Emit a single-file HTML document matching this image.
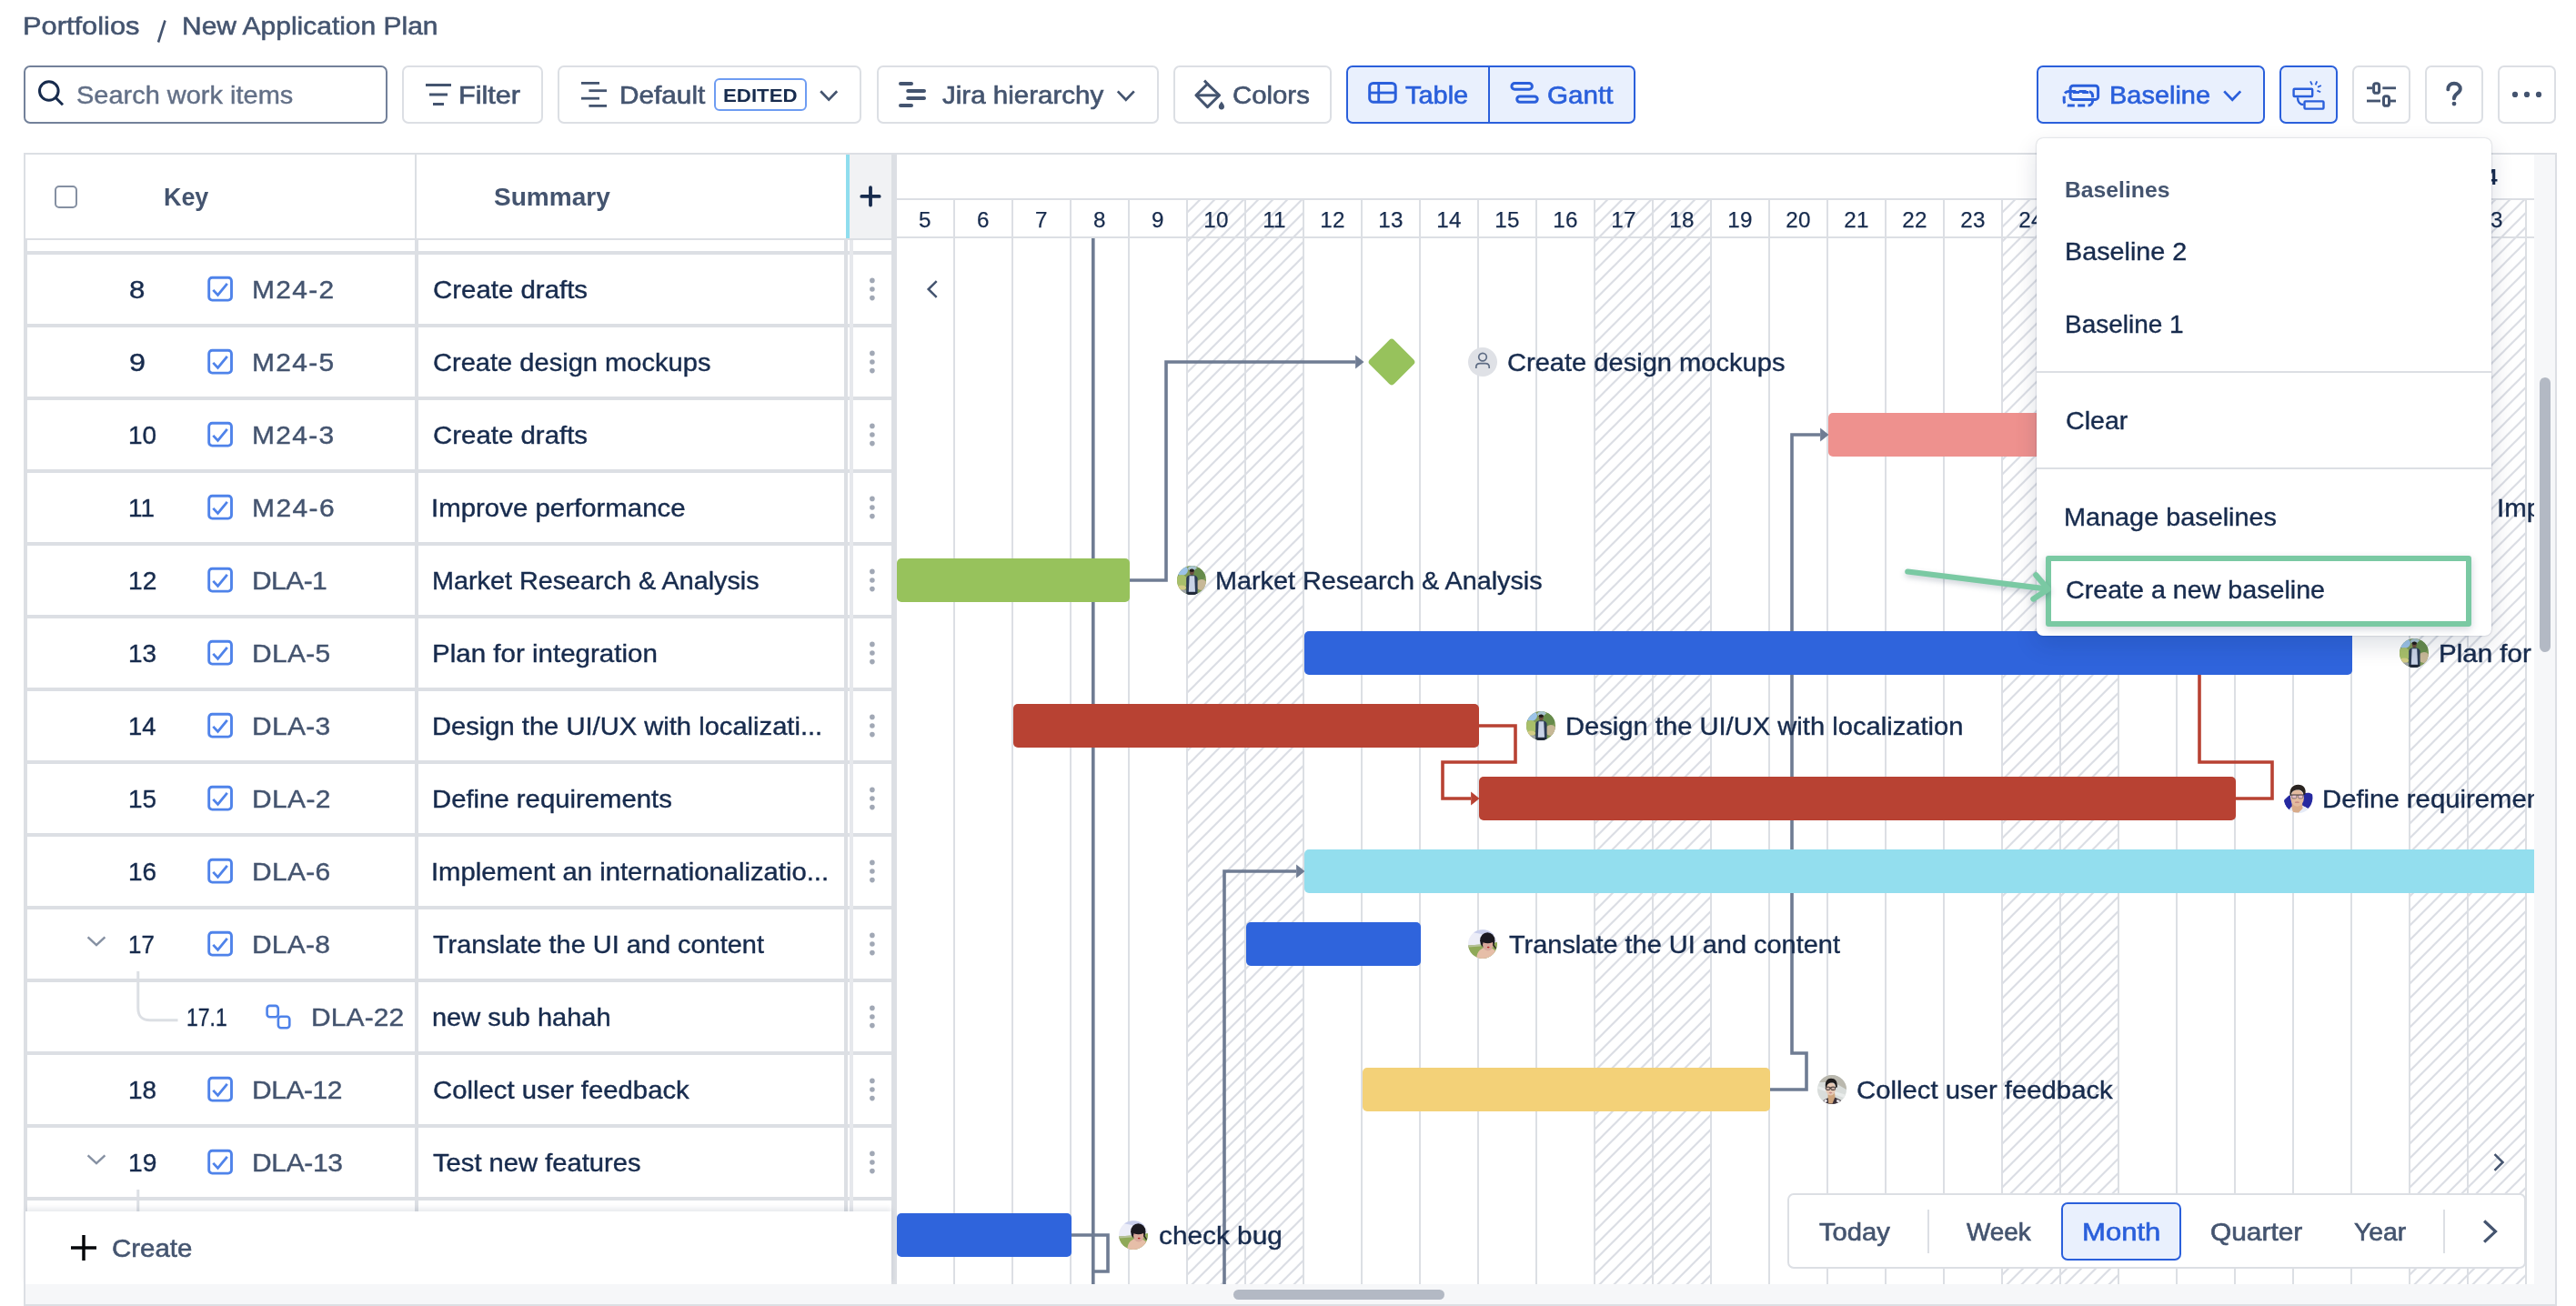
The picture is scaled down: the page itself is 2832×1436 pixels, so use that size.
<!DOCTYPE html>
<html><head><meta charset="utf-8"><title>New Application Plan</title>
<style>
html,body{margin:0;padding:0;background:#fff;}
body{width:2832px;height:1436px;position:relative;overflow:hidden;font-family:"Liberation Sans",sans-serif;}
div,svg{position:absolute;box-sizing:border-box;}
.t{white-space:nowrap;}
.btn{border:2px solid #DCDFE4;border-radius:7px;background:#fff;}
.btnsel{border:2.5px solid #2A5FDB;border-radius:7px;background:#E9F0FD;}
#root{left:0;top:0;width:2832px;height:1436px;will-change:transform;}
</style></head><body><div id="root">

<div style="left:0;top:0;width:2786px;height:1412px;overflow:hidden;">
<svg style="left:0px;top:0px;" width="2786" height="1412" viewBox="0 0 2786 1412" fill="none"><defs><pattern id="hz" width="16" height="16" patternUnits="userSpaceOnUse" patternTransform="translate(2.8 0)"><path d="M-2 18L18 -2M-2 2L2 -2M14 18L18 14" stroke="#D9DCE3" stroke-width="2.0"/></pattern></defs><rect x="1305" y="220" width="64" height="1192" fill="url(#hz)"/><rect x="1369" y="220" width="64" height="1192" fill="url(#hz)"/><rect x="1753" y="220" width="64" height="1192" fill="url(#hz)"/><rect x="1817" y="220" width="64" height="1192" fill="url(#hz)"/><rect x="2201" y="220" width="64" height="1192" fill="url(#hz)"/><rect x="2265" y="220" width="64" height="1192" fill="url(#hz)"/><rect x="2649" y="220" width="64" height="1192" fill="url(#hz)"/><rect x="2713" y="220" width="64" height="1192" fill="url(#hz)"/><rect x="1048" y="219" width="2" height="1193" fill="#DCDFE4"/><rect x="1112" y="219" width="2" height="1193" fill="#DCDFE4"/><rect x="1176" y="219" width="2" height="1193" fill="#DCDFE4"/><rect x="1240" y="219" width="2" height="1193" fill="#DCDFE4"/><rect x="1304" y="219" width="2" height="1193" fill="#DCDFE4"/><rect x="1368" y="219" width="2" height="1193" fill="#DCDFE4"/><rect x="1432" y="219" width="2" height="1193" fill="#DCDFE4"/><rect x="1496" y="219" width="2" height="1193" fill="#DCDFE4"/><rect x="1560" y="219" width="2" height="1193" fill="#DCDFE4"/><rect x="1624" y="219" width="2" height="1193" fill="#DCDFE4"/><rect x="1688" y="219" width="2" height="1193" fill="#DCDFE4"/><rect x="1752" y="219" width="2" height="1193" fill="#DCDFE4"/><rect x="1816" y="219" width="2" height="1193" fill="#DCDFE4"/><rect x="1880" y="219" width="2" height="1193" fill="#DCDFE4"/><rect x="1944" y="219" width="2" height="1193" fill="#DCDFE4"/><rect x="2008" y="219" width="2" height="1193" fill="#DCDFE4"/><rect x="2072" y="219" width="2" height="1193" fill="#DCDFE4"/><rect x="2136" y="219" width="2" height="1193" fill="#DCDFE4"/><rect x="2200" y="219" width="2" height="1193" fill="#DCDFE4"/><rect x="2264" y="219" width="2" height="1193" fill="#DCDFE4"/><rect x="2328" y="219" width="2" height="1193" fill="#DCDFE4"/><rect x="2392" y="219" width="2" height="1193" fill="#DCDFE4"/><rect x="2456" y="219" width="2" height="1193" fill="#DCDFE4"/><rect x="2520" y="219" width="2" height="1193" fill="#DCDFE4"/><rect x="2584" y="219" width="2" height="1193" fill="#DCDFE4"/><rect x="2648" y="219" width="2" height="1193" fill="#DCDFE4"/><rect x="2712" y="219" width="2" height="1193" fill="#DCDFE4"/><rect x="2776" y="219" width="2" height="1193" fill="#DCDFE4"/><rect x="986" y="218" width="1800" height="2" fill="#DCDFE4"/><rect x="986" y="260" width="1800" height="2" fill="#DCDFE4"/><rect x="1200" y="262" width="3.6" height="1150" fill="#6F7C93"/></svg>
<div class="t" style="left:985px;top:222px;width:64px;height:40px;line-height:40px;text-align:center;font-size:24.2px;letter-spacing:0.3px;-webkit-text-stroke:0.25px #172B4D;color:#172B4D;">5</div>
<div class="t" style="left:1049px;top:222px;width:64px;height:40px;line-height:40px;text-align:center;font-size:24.2px;letter-spacing:0.3px;-webkit-text-stroke:0.25px #172B4D;color:#172B4D;">6</div>
<div class="t" style="left:1113px;top:222px;width:64px;height:40px;line-height:40px;text-align:center;font-size:24.2px;letter-spacing:0.3px;-webkit-text-stroke:0.25px #172B4D;color:#172B4D;">7</div>
<div class="t" style="left:1177px;top:222px;width:64px;height:40px;line-height:40px;text-align:center;font-size:24.2px;letter-spacing:0.3px;-webkit-text-stroke:0.25px #172B4D;color:#172B4D;">8</div>
<div class="t" style="left:1241px;top:222px;width:64px;height:40px;line-height:40px;text-align:center;font-size:24.2px;letter-spacing:0.3px;-webkit-text-stroke:0.25px #172B4D;color:#172B4D;">9</div>
<div class="t" style="left:1305px;top:222px;width:64px;height:40px;line-height:40px;text-align:center;font-size:24.2px;letter-spacing:0.3px;-webkit-text-stroke:0.25px #172B4D;color:#172B4D;">10</div>
<div class="t" style="left:1369px;top:222px;width:64px;height:40px;line-height:40px;text-align:center;font-size:24.2px;letter-spacing:0.3px;-webkit-text-stroke:0.25px #172B4D;color:#172B4D;">11</div>
<div class="t" style="left:1433px;top:222px;width:64px;height:40px;line-height:40px;text-align:center;font-size:24.2px;letter-spacing:0.3px;-webkit-text-stroke:0.25px #172B4D;color:#172B4D;">12</div>
<div class="t" style="left:1497px;top:222px;width:64px;height:40px;line-height:40px;text-align:center;font-size:24.2px;letter-spacing:0.3px;-webkit-text-stroke:0.25px #172B4D;color:#172B4D;">13</div>
<div class="t" style="left:1561px;top:222px;width:64px;height:40px;line-height:40px;text-align:center;font-size:24.2px;letter-spacing:0.3px;-webkit-text-stroke:0.25px #172B4D;color:#172B4D;">14</div>
<div class="t" style="left:1625px;top:222px;width:64px;height:40px;line-height:40px;text-align:center;font-size:24.2px;letter-spacing:0.3px;-webkit-text-stroke:0.25px #172B4D;color:#172B4D;">15</div>
<div class="t" style="left:1689px;top:222px;width:64px;height:40px;line-height:40px;text-align:center;font-size:24.2px;letter-spacing:0.3px;-webkit-text-stroke:0.25px #172B4D;color:#172B4D;">16</div>
<div class="t" style="left:1753px;top:222px;width:64px;height:40px;line-height:40px;text-align:center;font-size:24.2px;letter-spacing:0.3px;-webkit-text-stroke:0.25px #172B4D;color:#172B4D;">17</div>
<div class="t" style="left:1817px;top:222px;width:64px;height:40px;line-height:40px;text-align:center;font-size:24.2px;letter-spacing:0.3px;-webkit-text-stroke:0.25px #172B4D;color:#172B4D;">18</div>
<div class="t" style="left:1881px;top:222px;width:64px;height:40px;line-height:40px;text-align:center;font-size:24.2px;letter-spacing:0.3px;-webkit-text-stroke:0.25px #172B4D;color:#172B4D;">19</div>
<div class="t" style="left:1945px;top:222px;width:64px;height:40px;line-height:40px;text-align:center;font-size:24.2px;letter-spacing:0.3px;-webkit-text-stroke:0.25px #172B4D;color:#172B4D;">20</div>
<div class="t" style="left:2009px;top:222px;width:64px;height:40px;line-height:40px;text-align:center;font-size:24.2px;letter-spacing:0.3px;-webkit-text-stroke:0.25px #172B4D;color:#172B4D;">21</div>
<div class="t" style="left:2073px;top:222px;width:64px;height:40px;line-height:40px;text-align:center;font-size:24.2px;letter-spacing:0.3px;-webkit-text-stroke:0.25px #172B4D;color:#172B4D;">22</div>
<div class="t" style="left:2137px;top:222px;width:64px;height:40px;line-height:40px;text-align:center;font-size:24.2px;letter-spacing:0.3px;-webkit-text-stroke:0.25px #172B4D;color:#172B4D;">23</div>
<div class="t" style="left:2201px;top:222px;width:64px;height:40px;line-height:40px;text-align:center;font-size:24.2px;letter-spacing:0.3px;-webkit-text-stroke:0.25px #172B4D;color:#172B4D;">24</div>
<div class="t" style="left:2265px;top:222px;width:64px;height:40px;line-height:40px;text-align:center;font-size:24.2px;letter-spacing:0.3px;-webkit-text-stroke:0.25px #172B4D;color:#172B4D;">25</div>
<div class="t" style="left:2329px;top:222px;width:64px;height:40px;line-height:40px;text-align:center;font-size:24.2px;letter-spacing:0.3px;-webkit-text-stroke:0.25px #172B4D;color:#172B4D;">26</div>
<div class="t" style="left:2393px;top:222px;width:64px;height:40px;line-height:40px;text-align:center;font-size:24.2px;letter-spacing:0.3px;-webkit-text-stroke:0.25px #172B4D;color:#172B4D;">27</div>
<div class="t" style="left:2457px;top:222px;width:64px;height:40px;line-height:40px;text-align:center;font-size:24.2px;letter-spacing:0.3px;-webkit-text-stroke:0.25px #172B4D;color:#172B4D;">28</div>
<div class="t" style="left:2521px;top:222px;width:64px;height:40px;line-height:40px;text-align:center;font-size:24.2px;letter-spacing:0.3px;-webkit-text-stroke:0.25px #172B4D;color:#172B4D;">29</div>
<div class="t" style="left:2585px;top:222px;width:64px;height:40px;line-height:40px;text-align:center;font-size:24.2px;letter-spacing:0.3px;-webkit-text-stroke:0.25px #172B4D;color:#172B4D;">1</div>
<div class="t" style="left:2649px;top:222px;width:64px;height:40px;line-height:40px;text-align:center;font-size:24.2px;letter-spacing:0.3px;-webkit-text-stroke:0.25px #172B4D;color:#172B4D;">2</div>
<div class="t" style="left:2713px;top:222px;width:64px;height:40px;line-height:40px;text-align:center;font-size:24.2px;letter-spacing:0.3px;-webkit-text-stroke:0.25px #172B4D;color:#172B4D;">3</div>
<div class="t" style="left:2777px;top:222px;width:64px;height:40px;line-height:40px;text-align:center;font-size:24.2px;letter-spacing:0.3px;-webkit-text-stroke:0.25px #172B4D;color:#172B4D;">4</div>
<div class="t" style="left:2680px;top:178.0px;height:33px;line-height:33px;font-size:24px;color:#172B4D;font-weight:700;white-space:nowrap;width:65.5px;text-align:right;overflow:visible;direction:rtl;">Mar 2024</div>
<svg style="left:0px;top:0px;" width="2786" height="1414" viewBox="0 0 2786 1414" fill="none"><path d="M1240 638H1282V398H1490" stroke="#6F7C93" stroke-width="3.6" fill="none" stroke-linejoin="miter"/><path d="M1490.1 390.6L1499.5 398L1490.1 405.4Z" fill="#6F7C93"/><path d="M1944 1198H1986V1158H1970V478H2001" stroke="#6F7C93" stroke-width="3.6" fill="none" stroke-linejoin="miter"/><path d="M2001.1 470.6L2010.5 478L2001.1 485.4Z" fill="#6F7C93"/><path d="M1346 1414V958H1425" stroke="#6F7C93" stroke-width="3.6" fill="none" stroke-linejoin="miter"/><path d="M1425.1 950.6L1434.5 958L1425.1 965.4Z" fill="#6F7C93"/><path d="M1176 1358H1218V1398H1202" stroke="#6F7C93" stroke-width="3.6" fill="none" stroke-linejoin="miter"/><path d="M1624 798H1666V838H1586V878H1617" stroke="#B84233" stroke-width="3.6" fill="none" stroke-linejoin="miter"/><path d="M1617.1 870.6L1626.5 878L1617.1 885.4Z" fill="#B84233"/><path d="M2456 878H2498V838H2418V740" stroke="#B84233" stroke-width="3.6" fill="none" stroke-linejoin="miter"/></svg>
<div style="left:2010px;top:454px;width:320px;height:48px;background:#EE918E;border-radius:5px;"></div>
<div style="left:986px;top:614px;width:256px;height:48px;background:#97C25C;border-radius:5px;"></div>
<div style="left:1434px;top:694px;width:1152px;height:48px;background:#2F64DC;border-radius:5px;"></div>
<div style="left:1114px;top:774px;width:512px;height:48px;background:#B84233;border-radius:5px;"></div>
<div style="left:1626px;top:854px;width:832px;height:48px;background:#B84233;border-radius:5px;"></div>
<div style="left:1434px;top:934px;width:1360px;height:48px;background:#93DEEE;border-radius:5px;"></div>
<div style="left:1370px;top:1014px;width:192px;height:48px;background:#2F64DC;border-radius:5px;"></div>
<div style="left:1498px;top:1174px;width:448px;height:48px;background:#F3D178;border-radius:5px;"></div>
<div style="left:986px;top:1334px;width:192px;height:48px;background:#2F64DC;border-radius:5px;"></div>
<div style="left:1511px;top:379px;width:38px;height:38px;background:#97C25C;border-radius:4px;transform:rotate(45deg);"></div>
<svg style="left:1614px;top:382px;" width="32" height="32" viewBox="0 0 32 32" fill="none"><defs><clipPath id="av1"><circle cx="16" cy="16" r="16"/></clipPath></defs><g clip-path="url(#av1)"><rect width="32" height="32" fill="#DFE1E6"/><circle cx="16" cy="10.6" r="4.3" stroke="#5E6C84" stroke-width="1.7"/><path d="M8.8 23V21.6C8.8 19.2 10.6 17.6 13 17.6H19C21.4 17.6 23.2 19.2 23.2 21.6V23" stroke="#5E6C84" stroke-width="1.7"/></g></svg>
<div class="t" style="left:1657.31px;top:378.5px;height:39px;line-height:39px;font-size:28px;color:#172B4D;font-weight:400;white-space:nowrap;-webkit-text-stroke:0.4px #172B4D;transform:scaleX(1.0383);transform-origin:0 50%;">Create design mockups</div>
<div class="t" style="left:2744.58px;top:538.5px;height:39px;line-height:39px;font-size:28px;color:#172B4D;font-weight:400;white-space:nowrap;-webkit-text-stroke:0.4px #172B4D;transform:scaleX(1.051);transform-origin:0 50%;">Improve performance</div>
<svg style="left:1294px;top:622px;" width="32" height="32" viewBox="0 0 32 32" fill="none"><defs><clipPath id="av2"><circle cx="16" cy="16" r="16"/></clipPath></defs><g clip-path="url(#av2)"><rect width="32" height="32" fill="#7F9A58"/><ellipse cx="5" cy="5" rx="7" ry="6" fill="#9CC3E8"/><ellipse cx="17" cy="3" rx="5" ry="3" fill="#A9C4CF"/><ellipse cx="5" cy="17" rx="6.5" ry="7" fill="#A8BF6A"/><ellipse cx="25" cy="9" rx="7" ry="7" fill="#668B4B"/><ellipse cx="27" cy="21" rx="6" ry="6" fill="#C7B897"/><path d="M0 22L10 27L10 32L0 32Z" fill="#9FA3A6"/><ellipse cx="5" cy="24" rx="5" ry="2.6" fill="#D2CC85"/><path d="M10.2 32V14.5C10.2 11.8 12.5 10.3 16.2 10.3C20 10.3 22.6 11.8 22.6 14.5V32Z" fill="#2B3B55"/><path d="M13.6 11.2H19.2L20 28.8H12.8Z" fill="#C8D2E6"/><rect x="11" y="29" width="11" height="3" fill="#1F2838"/><ellipse cx="16.3" cy="6.9" rx="2.5" ry="3.1" fill="#6B4E40"/><ellipse cx="16.3" cy="5.2" rx="2.7" ry="1.7" fill="#1F1A1A"/></g></svg>
<div class="t" style="left:1336.39px;top:618.5px;height:39px;line-height:39px;font-size:28px;color:#172B4D;font-weight:400;white-space:nowrap;-webkit-text-stroke:0.4px #172B4D;transform:scaleX(1.0271);transform-origin:0 50%;">Market Research &amp; Analysis</div>
<svg style="left:2638px;top:702px;" width="32" height="32" viewBox="0 0 32 32" fill="none"><defs><clipPath id="av3"><circle cx="16" cy="16" r="16"/></clipPath></defs><g clip-path="url(#av3)"><rect width="32" height="32" fill="#7F9A58"/><ellipse cx="5" cy="5" rx="7" ry="6" fill="#9CC3E8"/><ellipse cx="17" cy="3" rx="5" ry="3" fill="#A9C4CF"/><ellipse cx="5" cy="17" rx="6.5" ry="7" fill="#A8BF6A"/><ellipse cx="25" cy="9" rx="7" ry="7" fill="#668B4B"/><ellipse cx="27" cy="21" rx="6" ry="6" fill="#C7B897"/><path d="M0 22L10 27L10 32L0 32Z" fill="#9FA3A6"/><ellipse cx="5" cy="24" rx="5" ry="2.6" fill="#D2CC85"/><path d="M10.2 32V14.5C10.2 11.8 12.5 10.3 16.2 10.3C20 10.3 22.6 11.8 22.6 14.5V32Z" fill="#2B3B55"/><path d="M13.6 11.2H19.2L20 28.8H12.8Z" fill="#C8D2E6"/><rect x="11" y="29" width="11" height="3" fill="#1F2838"/><ellipse cx="16.3" cy="6.9" rx="2.5" ry="3.1" fill="#6B4E40"/><ellipse cx="16.3" cy="5.2" rx="2.7" ry="1.7" fill="#1F1A1A"/></g></svg>
<div class="t" style="left:2680.84px;top:698.5px;height:39px;line-height:39px;font-size:28px;color:#172B4D;font-weight:400;white-space:nowrap;-webkit-text-stroke:0.4px #172B4D;transform:scaleX(1.0546);transform-origin:0 50%;">Plan for integration</div>
<svg style="left:1678px;top:782px;" width="32" height="32" viewBox="0 0 32 32" fill="none"><defs><clipPath id="av4"><circle cx="16" cy="16" r="16"/></clipPath></defs><g clip-path="url(#av4)"><rect width="32" height="32" fill="#7F9A58"/><ellipse cx="5" cy="5" rx="7" ry="6" fill="#9CC3E8"/><ellipse cx="17" cy="3" rx="5" ry="3" fill="#A9C4CF"/><ellipse cx="5" cy="17" rx="6.5" ry="7" fill="#A8BF6A"/><ellipse cx="25" cy="9" rx="7" ry="7" fill="#668B4B"/><ellipse cx="27" cy="21" rx="6" ry="6" fill="#C7B897"/><path d="M0 22L10 27L10 32L0 32Z" fill="#9FA3A6"/><ellipse cx="5" cy="24" rx="5" ry="2.6" fill="#D2CC85"/><path d="M10.2 32V14.5C10.2 11.8 12.5 10.3 16.2 10.3C20 10.3 22.6 11.8 22.6 14.5V32Z" fill="#2B3B55"/><path d="M13.6 11.2H19.2L20 28.8H12.8Z" fill="#C8D2E6"/><rect x="11" y="29" width="11" height="3" fill="#1F2838"/><ellipse cx="16.3" cy="6.9" rx="2.5" ry="3.1" fill="#6B4E40"/><ellipse cx="16.3" cy="5.2" rx="2.7" ry="1.7" fill="#1F1A1A"/></g></svg>
<div class="t" style="left:1720.87px;top:778.5px;height:39px;line-height:39px;font-size:28px;color:#172B4D;font-weight:400;white-space:nowrap;-webkit-text-stroke:0.4px #172B4D;transform:scaleX(1.041);transform-origin:0 50%;">Design the UI/UX with localization</div>
<svg style="left:2510.5px;top:862px;" width="32" height="32" viewBox="0 0 32 32" fill="none"><defs><clipPath id="av5"><circle cx="16" cy="16" r="16"/></clipPath></defs><g clip-path="url(#av5)"><rect width="32" height="32" fill="#fff"/><path d="M-1 20L6 13.5L9 28L4.5 27.5Z" fill="#2629A0" stroke="#2629A0" stroke-width="2" stroke-linejoin="round"/><path d="M21 11C25 9 30 9.5 31.5 12C32 18 30 24 26.5 27L19 23Z" fill="#2629A0"/><path d="M3 32L8 25H23L28 30L26 32Z" fill="#E6EBF7"/><path d="M8.4 26L9 20H20L20.5 27L16 31.5H10Z" fill="#D8AB8A"/><ellipse cx="14.6" cy="15.5" rx="7.3" ry="9.3" fill="#E3BB9F"/><path d="M6.6 13C5.5 5 10 0.8 15.5 0.8C21.5 0.8 25 5.5 23.3 11.5L21.5 12C21 8 18 6 14 6.5C10 7 8 9 7.8 13Z" fill="#2A2421"/><path d="M7.6 12.2H21.6" stroke="#4A4044" stroke-width="1.3"/><rect x="8.6" y="12.3" width="5.2" height="3.6" rx="1.4" fill="#E6BFC6" stroke="#6A5E66" stroke-width="0.8"/><rect x="15.6" y="12.3" width="5.2" height="3.6" rx="1.4" fill="#E6BFC6" stroke="#6A5E66" stroke-width="0.8"/><ellipse cx="14.4" cy="20.2" rx="2.6" ry="0.9" fill="#C98C82"/></g></svg>
<div class="t" style="left:2552.65px;top:858.5px;height:39px;line-height:39px;font-size:28px;color:#172B4D;font-weight:400;white-space:nowrap;-webkit-text-stroke:0.4px #172B4D;transform:scaleX(1.0465);transform-origin:0 50%;">Define requirements</div>
<svg style="left:1614px;top:1022px;" width="32" height="32" viewBox="0 0 32 32" fill="none"><defs><clipPath id="av6"><circle cx="16" cy="16" r="16"/></clipPath></defs><g clip-path="url(#av6)"><rect width="32" height="32" fill="#ECEDF8"/><path d="M4 3C12 -1 24 -1 30 6L20 6Z" fill="#C9CFEC"/><path d="M0 17.5L14 16.5L32 14V32H0Z" fill="#8FA958"/><path d="M0 17.5L14 16.5L14 18.5L0 19.5Z" fill="#B7C29A"/><ellipse cx="21" cy="31" rx="11.5" ry="11.5" fill="#E6BEA8"/><ellipse cx="21.3" cy="12.2" rx="8.2" ry="9" fill="#1B1920"/><ellipse cx="21.8" cy="16.8" rx="5.8" ry="6.6" fill="#D9A99B"/><path d="M15.5 13C17 8.5 25 8 28 13.5C24 12.5 22 10.5 21.5 9.5C20 12.5 17.5 13.5 15.5 13Z" fill="#1B1920"/><ellipse cx="21.6" cy="12.6" rx="6.2" ry="2.6" fill="#1B1920"/><ellipse cx="22.2" cy="19.6" rx="1.4" ry="0.8" fill="#B22A2A"/><path d="M27.5 15L31 20.5L30 21.5L27 17Z" fill="#2A2320"/></g></svg>
<div class="t" style="left:1659.29px;top:1018.5px;height:39px;line-height:39px;font-size:28px;color:#172B4D;font-weight:400;white-space:nowrap;-webkit-text-stroke:0.4px #172B4D;transform:scaleX(1.0331);transform-origin:0 50%;">Translate the UI and content</div>
<svg style="left:1998px;top:1182px;" width="32" height="32" viewBox="0 0 32 32" fill="none"><defs><clipPath id="av7"><circle cx="16" cy="16" r="16"/></clipPath></defs><g clip-path="url(#av7)"><rect width="32" height="32" fill="#D9DDDB"/><path d="M0 0H32V16L18 8L2 8Z" fill="#BAB8AE"/><path d="M0 12L32 22V26L0 15Z" fill="#E8EBEA"/><path d="M5 32L7 27.5L13 24.5H19L25.5 27.5L27 32Z" fill="#3A3038"/><path d="M7 28L10 26.5L11 29L8.5 30.5ZM21.5 26.8L25 28.2L24 30.3L21 29.4Z" fill="#F0EEF2"/><path d="M12.3 31.5L11.5 23L12 19H19L19.5 24L16.5 31.5Z" fill="#CFA57E"/><ellipse cx="14.6" cy="15.4" rx="5.4" ry="7.2" fill="#E6C8B4"/><path d="M9 13.5C8 7 11 3.8 15 3.8C19.5 3.8 22.3 6.5 21.8 13.5L20.2 14C20 10 18.5 8.5 16 8.6C12.5 8.7 10.6 10 10 14Z" fill="#1D1B1C"/><path d="M8.8 14.2H20" stroke="#3B3230" stroke-width="1.2"/><rect x="9.4" y="13.2" width="4.4" height="3.2" rx="1" stroke="#3B3230" stroke-width="1" fill="#C9B0A4"/><rect x="15" y="13.2" width="4.6" height="3.2" rx="1" stroke="#3B3230" stroke-width="1" fill="#C9B0A4"/><ellipse cx="14.4" cy="19.6" rx="1.8" ry="0.8" fill="#C98A86"/></g></svg>
<div class="t" style="left:2041.4px;top:1178.5px;height:39px;line-height:39px;font-size:28px;color:#172B4D;font-weight:400;white-space:nowrap;-webkit-text-stroke:0.4px #172B4D;transform:scaleX(1.0463);transform-origin:0 50%;">Collect user feedback</div>
<svg style="left:1230px;top:1342px;" width="32" height="32" viewBox="0 0 32 32" fill="none"><defs><clipPath id="av8"><circle cx="16" cy="16" r="16"/></clipPath></defs><g clip-path="url(#av8)"><rect width="32" height="32" fill="#ECEDF8"/><path d="M4 3C12 -1 24 -1 30 6L20 6Z" fill="#C9CFEC"/><path d="M0 17.5L14 16.5L32 14V32H0Z" fill="#8FA958"/><path d="M0 17.5L14 16.5L14 18.5L0 19.5Z" fill="#B7C29A"/><ellipse cx="21" cy="31" rx="11.5" ry="11.5" fill="#E6BEA8"/><ellipse cx="21.3" cy="12.2" rx="8.2" ry="9" fill="#1B1920"/><ellipse cx="21.8" cy="16.8" rx="5.8" ry="6.6" fill="#D9A99B"/><path d="M15.5 13C17 8.5 25 8 28 13.5C24 12.5 22 10.5 21.5 9.5C20 12.5 17.5 13.5 15.5 13Z" fill="#1B1920"/><ellipse cx="21.6" cy="12.6" rx="6.2" ry="2.6" fill="#1B1920"/><ellipse cx="22.2" cy="19.6" rx="1.4" ry="0.8" fill="#B22A2A"/><path d="M27.5 15L31 20.5L30 21.5L27 17Z" fill="#2A2320"/></g></svg>
<div class="t" style="left:1273.85px;top:1338.5px;height:39px;line-height:39px;font-size:28px;color:#172B4D;font-weight:400;white-space:nowrap;-webkit-text-stroke:0.4px #172B4D;transform:scaleX(1.0638);transform-origin:0 50%;">check bug</div>
<svg style="left:1010px;top:300px;" width="36" height="36" viewBox="0 0 36 36" fill="none"><path d="M19.7 9.1L10.7 18L19.7 26.9" stroke="#44546F" stroke-width="2.5" fill="none"/></svg>
<svg style="left:2730px;top:1260px;" width="36" height="36" viewBox="0 0 36 36" fill="none"><path d="M12.5 9.1L21.5 18L12.5 26.9" stroke="#44546F" stroke-width="2.5" fill="none"/></svg>
<div style="left:1965px;top:1312px;width:812px;height:83px;background:#fff;border:2px solid #DCDFE4;border-radius:7px;"></div>
<div class="btnsel" style="left:2266px;top:1322px;width:132px;height:64px;"></div>
<div class="t" style="left:2000.1px;top:1334.5px;height:39px;line-height:39px;font-size:28px;color:#44546F;font-weight:400;white-space:nowrap;-webkit-text-stroke:0.62px #44546F;transform:scaleX(1.0418);transform-origin:0 50%;">Today</div>
<div style="left:2119px;top:1330px;width:2px;height:48px;background:#DCDFE4;"></div>
<div class="t" style="left:2161.81px;top:1334.5px;height:39px;line-height:39px;font-size:28px;color:#44546F;font-weight:400;white-space:nowrap;-webkit-text-stroke:0.62px #44546F;transform:scaleX(0.9962);transform-origin:0 50%;">Week</div>
<div class="t" style="left:2288.85px;top:1334.5px;height:39px;line-height:39px;font-size:28px;color:#2A5FDB;font-weight:400;white-space:nowrap;-webkit-text-stroke:0.62px #2A5FDB;transform:scaleX(1.1096);transform-origin:0 50%;">Month</div>
<div class="t" style="left:2429.7px;top:1334.5px;height:39px;line-height:39px;font-size:28px;color:#44546F;font-weight:400;white-space:nowrap;-webkit-text-stroke:0.62px #44546F;transform:scaleX(1.0674);transform-origin:0 50%;">Quarter</div>
<div class="t" style="left:2588.31px;top:1334.5px;height:39px;line-height:39px;font-size:28px;color:#44546F;font-weight:400;white-space:nowrap;-webkit-text-stroke:0.62px #44546F;transform:scaleX(1.013);transform-origin:0 50%;">Year</div>
<div style="left:2686px;top:1330px;width:2px;height:48px;background:#DCDFE4;"></div>
<svg style="left:2719px;top:1336px;" width="36" height="36" viewBox="0 0 36 36" fill="none"><path d="M12.100000000000001 6.500000000000002L24.5 18.1L12.100000000000001 29.700000000000003" stroke="#44546F" stroke-width="3.2" fill="none"/></svg>
</div>
<div class="t" style="left:24.83px;top:8.5px;height:39px;line-height:39px;font-size:28px;color:#44546F;font-weight:400;white-space:nowrap;-webkit-text-stroke:0.55px #44546F;transform:scaleX(1.1004);transform-origin:0 50%;">Portfolios</div>
<div class="t" style="left:199.89px;top:8.5px;height:39px;line-height:39px;font-size:28px;color:#44546F;font-weight:400;white-space:nowrap;-webkit-text-stroke:0.55px #44546F;transform:scaleX(1.0701);transform-origin:0 50%;">New Application Plan</div>
<div style="left:26px;top:72px;width:400px;height:64px;border:2px solid #73819A;border-radius:7px;background:#fff;"></div>
<div class="t" style="left:83.91px;top:84.5px;height:39px;line-height:39px;font-size:28px;color:#626F86;font-weight:400;white-space:nowrap;-webkit-text-stroke:0.4px #626F86;transform:scaleX(1.0346);transform-origin:0 50%;">Search work items</div>
<div class="btn" style="left:442px;top:72px;width:155px;height:64px;"></div>
<div class="t" style="left:504.48px;top:84.5px;height:39px;line-height:39px;font-size:28px;color:#44546F;font-weight:400;white-space:nowrap;-webkit-text-stroke:0.62px #44546F;transform:scaleX(1.0933);transform-origin:0 50%;">Filter</div>
<div class="btn" style="left:613px;top:72px;width:334px;height:64px;"></div>
<div class="t" style="left:681.34px;top:84.5px;height:39px;line-height:39px;font-size:28px;color:#44546F;font-weight:400;white-space:nowrap;-webkit-text-stroke:0.62px #44546F;transform:scaleX(1.0629);transform-origin:0 50%;">Default</div>
<div style="left:785px;top:86px;width:102px;height:36px;border:2px solid #6E9CF2;border-radius:6px;background:#fff;"></div>
<div class="t" style="left:794.68px;top:89.5px;height:29px;line-height:29px;font-size:21px;color:#172B4D;font-weight:700;white-space:nowrap;transform:scaleX(1.0587);transform-origin:0 50%;">EDITED</div>
<div class="btn" style="left:964px;top:72px;width:310px;height:64px;"></div>
<div class="t" style="left:1035.56px;top:84.5px;height:39px;line-height:39px;font-size:28px;color:#44546F;font-weight:400;white-space:nowrap;-webkit-text-stroke:0.62px #44546F;transform:scaleX(1.0542);transform-origin:0 50%;">Jira hierarchy</div>
<div class="btn" style="left:1290px;top:72px;width:174px;height:64px;"></div>
<div class="t" style="left:1354.51px;top:84.5px;height:39px;line-height:39px;font-size:28px;color:#44546F;font-weight:400;white-space:nowrap;-webkit-text-stroke:0.62px #44546F;transform:scaleX(1.0483);transform-origin:0 50%;">Colors</div>
<div class="btnsel" style="left:1480px;top:72px;width:318px;height:64px;"></div>
<div style="left:1636px;top:72px;width:2.4px;height:64px;background:#2A5FDB;"></div>
<div class="t" style="left:1545.0px;top:84.5px;height:39px;line-height:39px;font-size:28px;color:#2A5FDB;font-weight:400;white-space:nowrap;-webkit-text-stroke:0.62px #2A5FDB;transform:scaleX(1.033);transform-origin:0 50%;">Table</div>
<div class="t" style="left:1700.61px;top:84.5px;height:39px;line-height:39px;font-size:28px;color:#2A5FDB;font-weight:400;white-space:nowrap;-webkit-text-stroke:0.62px #2A5FDB;transform:scaleX(1.0579);transform-origin:0 50%;">Gantt</div>
<div class="btnsel" style="left:2239px;top:72px;width:251px;height:64px;"></div>
<div class="t" style="left:2318.79px;top:84.5px;height:39px;line-height:39px;font-size:28px;color:#2A5FDB;font-weight:400;white-space:nowrap;-webkit-text-stroke:0.62px #2A5FDB;transform:scaleX(1.0342);transform-origin:0 50%;">Baseline</div>
<div class="btnsel" style="left:2506px;top:72px;width:64px;height:64px;"></div>
<div class="btn" style="left:2586px;top:72px;width:64px;height:64px;"></div>
<div class="btn" style="left:2666px;top:72px;width:64px;height:64px;"></div>
<div class="btn" style="left:2746px;top:72px;width:64px;height:64px;"></div>
<svg style="left:0px;top:0px;" width="2832" height="150" viewBox="0 0 2832 150" fill="none"><path d="M181.5 22.5L174 46.5" stroke="#44546F" stroke-width="2.6" stroke-linecap="butt"/><circle cx="53.8" cy="100" r="10.3" stroke="#172B4D" stroke-width="3"/><path d="M61.3 107.5L69 115.2" stroke="#172B4D" stroke-width="3" stroke-linecap="butt"/><path d="M468 93.5L496 93.5" stroke="#44546F" stroke-width="3" stroke-linecap="butt"/><path d="M472 104L492 104" stroke="#44546F" stroke-width="3" stroke-linecap="butt"/><path d="M476 114.5L488 114.5" stroke="#44546F" stroke-width="3" stroke-linecap="butt"/><path d="M639 91.4L659 91.4" stroke="#44546F" stroke-width="2.8" stroke-linecap="butt"/><path d="M647.4 99.7L667 99.7" stroke="#44546F" stroke-width="2.8" stroke-linecap="butt"/><path d="M639 108.2L659 108.2" stroke="#44546F" stroke-width="2.8" stroke-linecap="butt"/><path d="M647.4 116.4L667 116.4" stroke="#44546F" stroke-width="2.8" stroke-linecap="butt"/><path d="M902.2 100.2L911.2 109.60000000000001L920.2 100.2" stroke="#44546F" stroke-width="2.7" fill="none"/><path d="M990 91.9L1002 91.9" stroke="#44546F" stroke-width="4" stroke-linecap="round"/><path d="M998.2 100L1016 100" stroke="#44546F" stroke-width="4" stroke-linecap="round"/><path d="M998.2 107.9L1016 107.9" stroke="#44546F" stroke-width="4" stroke-linecap="round"/><path d="M990 116L1002 116" stroke="#44546F" stroke-width="4" stroke-linecap="round"/><path d="M1228.8 100.39999999999999L1237.8 109.8L1246.8 100.39999999999999" stroke="#44546F" stroke-width="2.7" fill="none"/><path d="M1327.5 92.3L1340.6 104.8L1327.5 117.6L1314.9 104.8Z" stroke="#44546F" stroke-width="3" stroke-linejoin="round"/><path d="M1315 104.8L1340.5 104.8" stroke="#44546F" stroke-width="3" stroke-linecap="butt"/><path d="M1324 88.6L1328.5 93.2" stroke="#44546F" stroke-width="3" stroke-linecap="butt"/><path d="M1342.9 111.6C1344.6 114 1346 115.6 1346 117.3A3.1 3.1 0 0 1 1339.8 117.3C1339.8 115.6 1341.2 114 1342.9 111.6Z" fill="#44546F"/><rect x="1505.7" y="91.5" width="28.5" height="20.7" rx="4" stroke="#2A5FDB" stroke-width="3"/><path d="M1515.7 91.5L1515.7 112.2" stroke="#2A5FDB" stroke-width="2.8" stroke-linecap="butt"/><path d="M1505.7 102L1534.2 102" stroke="#2A5FDB" stroke-width="2.8" stroke-linecap="butt"/><rect x="1661.9" y="91.6" width="22.5" height="6.6" rx="3.3" stroke="#2A5FDB" stroke-width="3"/><rect x="1667.7" y="105.9" width="22.5" height="6.4" rx="3.2" stroke="#2A5FDB" stroke-width="3"/><rect x="2269.2" y="100.4" width="31.4" height="15.5" rx="5" stroke="#2A5FDB" stroke-width="3" stroke-dasharray="8 3.4" fill="#E9F0FD"/><rect x="2276.1" y="94.3" width="30.5" height="15.1" rx="3" stroke="#2A5FDB" stroke-width="3"/><path d="M2279 101.6H2299" stroke="#2A5FDB" stroke-width="3" stroke-dasharray="7 3.2"/><path d="M2445.2 100.39999999999999L2454.2 109.8L2463.2 100.39999999999999" stroke="#2A5FDB" stroke-width="2.7" fill="none"/><path d="M2526 107.2C2526 112 2528.5 115 2532.5 115" stroke="#2A5FDB" stroke-width="2.4"/><rect x="2521.6" y="97.8" width="20.6" height="8.2" rx="1" stroke="#2A5FDB" stroke-width="2.4" fill="#E9F0FD"/><rect x="2533.5" y="111.4" width="21" height="8.2" rx="1" stroke="#2A5FDB" stroke-width="2.4" fill="#E9F0FD"/><path d="M2540 89.3L2541.9 93.3" stroke="#2A5FDB" stroke-width="1.8" stroke-linecap="butt"/><path d="M2547.2 89.3L2545.6 93.3" stroke="#2A5FDB" stroke-width="1.8" stroke-linecap="butt"/><path d="M2551.8 94L2548.1 95.9" stroke="#2A5FDB" stroke-width="1.8" stroke-linecap="butt"/><path d="M2551.2 101.3L2547.4 99.6" stroke="#2A5FDB" stroke-width="1.8" stroke-linecap="butt"/><path d="M2602 96.8L2608 96.8" stroke="#44546F" stroke-width="2.8" stroke-linecap="butt"/><path d="M2619.3 96.8L2634 96.8" stroke="#44546F" stroke-width="2.8" stroke-linecap="butt"/><rect x="2609.6" y="91.7" width="6" height="10.6" rx="2.4" stroke="#44546F" stroke-width="3"/><path d="M2602 111L2617 111" stroke="#44546F" stroke-width="2.8" stroke-linecap="butt"/><path d="M2628 111L2634 111" stroke="#44546F" stroke-width="2.8" stroke-linecap="butt"/><rect x="2620.5" y="105.7" width="6" height="10.6" rx="2.4" stroke="#44546F" stroke-width="3"/><path d="M2691.3 98.4C2691.3 94.2 2694.2 91.8 2698 91.8C2702 91.8 2704.8 94.3 2704.8 97.7C2704.8 102.8 2697.9 102.6 2697.9 108.4" stroke="#44546F" stroke-width="3.9" stroke-linecap="round"/><circle cx="2698" cy="114.1" r="2.4" fill="#44546F"/><circle cx="2765" cy="103.9" r="3.1" fill="#44546F"/><circle cx="2778" cy="103.9" r="3.1" fill="#44546F"/><circle cx="2791" cy="103.9" r="3.1" fill="#44546F"/></svg>
<div style="left:26px;top:169px;width:960px;height:1243px;background:#fff;"></div>
<div style="left:28px;top:276px;width:953px;height:4px;background:#DCDFE4;"></div>
<div class="t" style="left:142.11px;top:298.5px;height:39px;line-height:39px;font-size:28px;color:#172B4D;font-weight:400;white-space:nowrap;-webkit-text-stroke:0.4px #172B4D;transform:scaleX(1.1151);transform-origin:0 50%;">8</div>
<div class="t" style="left:277.41px;top:298.5px;height:39px;line-height:39px;font-size:28px;color:#44546F;font-weight:400;white-space:nowrap;-webkit-text-stroke:0.4px #44546F;letter-spacing:1.22px;transform:scaleX(1.07);transform-origin:0 50%;">M24-2</div>
<div class="t" style="left:475.6px;top:298.5px;height:39px;line-height:39px;font-size:28px;color:#172B4D;font-weight:400;white-space:nowrap;-webkit-text-stroke:0.4px #172B4D;transform:scaleX(1.0507);transform-origin:0 50%;">Create drafts</div>
<div style="left:28px;top:356px;width:953px;height:4px;background:#DCDFE4;"></div>
<div class="t" style="left:141.79px;top:378.5px;height:39px;line-height:39px;font-size:28px;color:#172B4D;font-weight:400;white-space:nowrap;-webkit-text-stroke:0.4px #172B4D;transform:scaleX(1.1567);transform-origin:0 50%;">9</div>
<div class="t" style="left:277.41px;top:378.5px;height:39px;line-height:39px;font-size:28px;color:#44546F;font-weight:400;white-space:nowrap;-webkit-text-stroke:0.4px #44546F;letter-spacing:1.227px;transform:scaleX(1.07);transform-origin:0 50%;">M24-5</div>
<div class="t" style="left:475.61px;top:378.5px;height:39px;line-height:39px;font-size:28px;color:#172B4D;font-weight:400;white-space:nowrap;-webkit-text-stroke:0.4px #172B4D;transform:scaleX(1.0383);transform-origin:0 50%;">Create design mockups</div>
<div style="left:28px;top:436px;width:953px;height:4px;background:#DCDFE4;"></div>
<div class="t" style="left:141.21px;top:458.5px;height:39px;line-height:39px;font-size:28px;color:#172B4D;font-weight:400;white-space:nowrap;-webkit-text-stroke:0.4px #172B4D;transform:scaleX(0.9965);transform-origin:0 50%;">10</div>
<div class="t" style="left:277.41px;top:458.5px;height:39px;line-height:39px;font-size:28px;color:#44546F;font-weight:400;white-space:nowrap;-webkit-text-stroke:0.4px #44546F;letter-spacing:1.227px;transform:scaleX(1.07);transform-origin:0 50%;">M24-3</div>
<div class="t" style="left:475.6px;top:458.5px;height:39px;line-height:39px;font-size:28px;color:#172B4D;font-weight:400;white-space:nowrap;-webkit-text-stroke:0.4px #172B4D;transform:scaleX(1.0507);transform-origin:0 50%;">Create drafts</div>
<div style="left:28px;top:516px;width:953px;height:4px;background:#DCDFE4;"></div>
<div class="t" style="left:141.21px;top:538.5px;height:39px;line-height:39px;font-size:28px;color:#172B4D;font-weight:400;white-space:nowrap;-webkit-text-stroke:0.4px #172B4D;transform:scaleX(0.9943);transform-origin:0 50%;">11</div>
<div class="t" style="left:277.41px;top:538.5px;height:39px;line-height:39px;font-size:28px;color:#44546F;font-weight:400;white-space:nowrap;-webkit-text-stroke:0.4px #44546F;letter-spacing:1.344px;transform:scaleX(1.07);transform-origin:0 50%;">M24-6</div>
<div class="t" style="left:474.28px;top:538.5px;height:39px;line-height:39px;font-size:28px;color:#172B4D;font-weight:400;white-space:nowrap;-webkit-text-stroke:0.4px #172B4D;transform:scaleX(1.051);transform-origin:0 50%;">Improve performance</div>
<div style="left:28px;top:596px;width:953px;height:4px;background:#DCDFE4;"></div>
<div class="t" style="left:141.19px;top:618.5px;height:39px;line-height:39px;font-size:28px;color:#172B4D;font-weight:400;white-space:nowrap;-webkit-text-stroke:0.4px #172B4D;transform:scaleX(1.0053);transform-origin:0 50%;">12</div>
<div class="t" style="left:277.41px;top:618.5px;height:39px;line-height:39px;font-size:28px;color:#44546F;font-weight:400;white-space:nowrap;-webkit-text-stroke:0.4px #44546F;letter-spacing:-0.509px;transform:scaleX(1.07);transform-origin:0 50%;">DLA-1</div>
<div class="t" style="left:474.59px;top:618.5px;height:39px;line-height:39px;font-size:28px;color:#172B4D;font-weight:400;white-space:nowrap;-webkit-text-stroke:0.4px #172B4D;transform:scaleX(1.0271);transform-origin:0 50%;">Market Research &amp; Analysis</div>
<div style="left:28px;top:676px;width:953px;height:4px;background:#DCDFE4;"></div>
<div class="t" style="left:141.21px;top:698.5px;height:39px;line-height:39px;font-size:28px;color:#172B4D;font-weight:400;white-space:nowrap;-webkit-text-stroke:0.4px #172B4D;transform:scaleX(0.9965);transform-origin:0 50%;">13</div>
<div class="t" style="left:277.41px;top:698.5px;height:39px;line-height:39px;font-size:28px;color:#44546F;font-weight:400;white-space:nowrap;-webkit-text-stroke:0.4px #44546F;letter-spacing:0.293px;transform:scaleX(1.07);transform-origin:0 50%;">DLA-5</div>
<div class="t" style="left:474.54px;top:698.5px;height:39px;line-height:39px;font-size:28px;color:#172B4D;font-weight:400;white-space:nowrap;-webkit-text-stroke:0.4px #172B4D;transform:scaleX(1.0546);transform-origin:0 50%;">Plan for integration</div>
<div style="left:28px;top:756px;width:953px;height:4px;background:#DCDFE4;"></div>
<div class="t" style="left:141.24px;top:778.5px;height:39px;line-height:39px;font-size:28px;color:#172B4D;font-weight:400;white-space:nowrap;-webkit-text-stroke:0.4px #172B4D;transform:scaleX(0.9792);transform-origin:0 50%;">14</div>
<div class="t" style="left:277.41px;top:778.5px;height:39px;line-height:39px;font-size:28px;color:#44546F;font-weight:400;white-space:nowrap;-webkit-text-stroke:0.4px #44546F;letter-spacing:0.293px;transform:scaleX(1.07);transform-origin:0 50%;">DLA-3</div>
<div class="t" style="left:474.57px;top:778.5px;height:39px;line-height:39px;font-size:28px;color:#172B4D;font-weight:400;white-space:nowrap;-webkit-text-stroke:0.4px #172B4D;transform:scaleX(1.0408);transform-origin:0 50%;">Design the UI/UX with localizati...</div>
<div style="left:28px;top:836px;width:953px;height:4px;background:#DCDFE4;"></div>
<div class="t" style="left:141.21px;top:858.5px;height:39px;line-height:39px;font-size:28px;color:#172B4D;font-weight:400;white-space:nowrap;-webkit-text-stroke:0.4px #172B4D;transform:scaleX(0.9965);transform-origin:0 50%;">15</div>
<div class="t" style="left:277.41px;top:858.5px;height:39px;line-height:39px;font-size:28px;color:#44546F;font-weight:400;white-space:nowrap;-webkit-text-stroke:0.4px #44546F;letter-spacing:0.355px;transform:scaleX(1.07);transform-origin:0 50%;">DLA-2</div>
<div class="t" style="left:474.55px;top:858.5px;height:39px;line-height:39px;font-size:28px;color:#172B4D;font-weight:400;white-space:nowrap;-webkit-text-stroke:0.4px #172B4D;transform:scaleX(1.0465);transform-origin:0 50%;">Define requirements</div>
<div style="left:28px;top:916px;width:953px;height:4px;background:#DCDFE4;"></div>
<div class="t" style="left:141.21px;top:938.5px;height:39px;line-height:39px;font-size:28px;color:#172B4D;font-weight:400;white-space:nowrap;-webkit-text-stroke:0.4px #172B4D;transform:scaleX(0.9965);transform-origin:0 50%;">16</div>
<div class="t" style="left:277.41px;top:938.5px;height:39px;line-height:39px;font-size:28px;color:#44546F;font-weight:400;white-space:nowrap;-webkit-text-stroke:0.4px #44546F;letter-spacing:0.293px;transform:scaleX(1.07);transform-origin:0 50%;">DLA-6</div>
<div class="t" style="left:474.3px;top:938.5px;height:39px;line-height:39px;font-size:28px;color:#172B4D;font-weight:400;white-space:nowrap;-webkit-text-stroke:0.4px #172B4D;transform:scaleX(1.0438);transform-origin:0 50%;">Implement an internationalizatio...</div>
<div style="left:28px;top:996px;width:953px;height:4px;background:#DCDFE4;"></div>
<div class="t" style="left:141.34px;top:1018.5px;height:39px;line-height:39px;font-size:28px;color:#172B4D;font-weight:400;white-space:nowrap;-webkit-text-stroke:0.4px #172B4D;transform:scaleX(0.9236);transform-origin:0 50%;">17</div>
<div class="t" style="left:277.41px;top:1018.5px;height:39px;line-height:39px;font-size:28px;color:#44546F;font-weight:400;white-space:nowrap;-webkit-text-stroke:0.4px #44546F;letter-spacing:0.222px;transform:scaleX(1.07);transform-origin:0 50%;">DLA-8</div>
<div class="t" style="left:476.39px;top:1018.5px;height:39px;line-height:39px;font-size:28px;color:#172B4D;font-weight:400;white-space:nowrap;-webkit-text-stroke:0.4px #172B4D;transform:scaleX(1.0331);transform-origin:0 50%;">Translate the UI and content</div>
<div style="left:28px;top:1076px;width:953px;height:4px;background:#DCDFE4;"></div>
<div class="t" style="left:205.22px;top:1098.5px;height:39px;line-height:39px;font-size:28px;color:#172B4D;font-weight:400;white-space:nowrap;-webkit-text-stroke:0.4px #172B4D;transform:scaleX(0.8209);transform-origin:0 50%;">17.1</div>
<div class="t" style="left:341.51px;top:1098.5px;height:39px;line-height:39px;font-size:28px;color:#44546F;font-weight:400;white-space:nowrap;-webkit-text-stroke:0.4px #44546F;letter-spacing:0.119px;transform:scaleX(1.07);transform-origin:0 50%;">DLA-22</div>
<div class="t" style="left:475.1px;top:1098.5px;height:39px;line-height:39px;font-size:28px;color:#172B4D;font-weight:400;white-space:nowrap;-webkit-text-stroke:0.4px #172B4D;transform:scaleX(1.035);transform-origin:0 50%;">new sub hahah</div>
<div style="left:28px;top:1156px;width:953px;height:4px;background:#DCDFE4;"></div>
<div class="t" style="left:141.21px;top:1178.5px;height:39px;line-height:39px;font-size:28px;color:#172B4D;font-weight:400;white-space:nowrap;-webkit-text-stroke:0.4px #172B4D;transform:scaleX(0.9965);transform-origin:0 50%;">18</div>
<div class="t" style="left:277.41px;top:1178.5px;height:39px;line-height:39px;font-size:28px;color:#44546F;font-weight:400;white-space:nowrap;-webkit-text-stroke:0.4px #44546F;letter-spacing:-0.405px;transform:scaleX(1.07);transform-origin:0 50%;">DLA-12</div>
<div class="t" style="left:475.6px;top:1178.5px;height:39px;line-height:39px;font-size:28px;color:#172B4D;font-weight:400;white-space:nowrap;-webkit-text-stroke:0.4px #172B4D;transform:scaleX(1.0463);transform-origin:0 50%;">Collect user feedback</div>
<div style="left:28px;top:1236px;width:953px;height:4px;background:#DCDFE4;"></div>
<div class="t" style="left:141.19px;top:1258.5px;height:39px;line-height:39px;font-size:28px;color:#172B4D;font-weight:400;white-space:nowrap;-webkit-text-stroke:0.4px #172B4D;transform:scaleX(1.0053);transform-origin:0 50%;">19</div>
<div class="t" style="left:277.41px;top:1258.5px;height:39px;line-height:39px;font-size:28px;color:#44546F;font-weight:400;white-space:nowrap;-webkit-text-stroke:0.4px #44546F;letter-spacing:-0.305px;transform:scaleX(1.07);transform-origin:0 50%;">DLA-13</div>
<div class="t" style="left:476.39px;top:1258.5px;height:39px;line-height:39px;font-size:28px;color:#172B4D;font-weight:400;white-space:nowrap;-webkit-text-stroke:0.4px #172B4D;transform:scaleX(1.0417);transform-origin:0 50%;">Test new features</div>
<div style="left:28px;top:1316px;width:953px;height:4px;background:#DCDFE4;"></div>
<svg style="left:0px;top:0px;" width="1000" height="1436" viewBox="0 0 1000 1436" fill="none"><rect x="229.7" y="305.3" width="24.8" height="24.8" rx="3.6" stroke="#4F83EA" stroke-width="2.9"/><path d="M234.3 318.9L239.5 324.4L249.8 311.8" stroke="#4F83EA" stroke-width="2.8" fill="none"/><circle cx="958.9" cy="308.4" r="2.8" fill="#A1A8B5"/><circle cx="958.9" cy="318" r="2.8" fill="#A1A8B5"/><circle cx="958.9" cy="327.6" r="2.8" fill="#A1A8B5"/><rect x="229.7" y="385.3" width="24.8" height="24.8" rx="3.6" stroke="#4F83EA" stroke-width="2.9"/><path d="M234.3 398.9L239.5 404.4L249.8 391.8" stroke="#4F83EA" stroke-width="2.8" fill="none"/><circle cx="958.9" cy="388.4" r="2.8" fill="#A1A8B5"/><circle cx="958.9" cy="398" r="2.8" fill="#A1A8B5"/><circle cx="958.9" cy="407.6" r="2.8" fill="#A1A8B5"/><rect x="229.7" y="465.3" width="24.8" height="24.8" rx="3.6" stroke="#4F83EA" stroke-width="2.9"/><path d="M234.3 478.9L239.5 484.4L249.8 471.8" stroke="#4F83EA" stroke-width="2.8" fill="none"/><circle cx="958.9" cy="468.4" r="2.8" fill="#A1A8B5"/><circle cx="958.9" cy="478" r="2.8" fill="#A1A8B5"/><circle cx="958.9" cy="487.6" r="2.8" fill="#A1A8B5"/><rect x="229.7" y="545.3" width="24.8" height="24.8" rx="3.6" stroke="#4F83EA" stroke-width="2.9"/><path d="M234.3 558.9L239.5 564.4L249.8 551.8" stroke="#4F83EA" stroke-width="2.8" fill="none"/><circle cx="958.9" cy="548.4" r="2.8" fill="#A1A8B5"/><circle cx="958.9" cy="558" r="2.8" fill="#A1A8B5"/><circle cx="958.9" cy="567.6" r="2.8" fill="#A1A8B5"/><rect x="229.7" y="625.3" width="24.8" height="24.8" rx="3.6" stroke="#4F83EA" stroke-width="2.9"/><path d="M234.3 638.9L239.5 644.4L249.8 631.8" stroke="#4F83EA" stroke-width="2.8" fill="none"/><circle cx="958.9" cy="628.4" r="2.8" fill="#A1A8B5"/><circle cx="958.9" cy="638" r="2.8" fill="#A1A8B5"/><circle cx="958.9" cy="647.6" r="2.8" fill="#A1A8B5"/><rect x="229.7" y="705.3" width="24.8" height="24.8" rx="3.6" stroke="#4F83EA" stroke-width="2.9"/><path d="M234.3 718.9L239.5 724.4L249.8 711.8" stroke="#4F83EA" stroke-width="2.8" fill="none"/><circle cx="958.9" cy="708.4" r="2.8" fill="#A1A8B5"/><circle cx="958.9" cy="718" r="2.8" fill="#A1A8B5"/><circle cx="958.9" cy="727.6" r="2.8" fill="#A1A8B5"/><rect x="229.7" y="785.3" width="24.8" height="24.8" rx="3.6" stroke="#4F83EA" stroke-width="2.9"/><path d="M234.3 798.9L239.5 804.4L249.8 791.8" stroke="#4F83EA" stroke-width="2.8" fill="none"/><circle cx="958.9" cy="788.4" r="2.8" fill="#A1A8B5"/><circle cx="958.9" cy="798" r="2.8" fill="#A1A8B5"/><circle cx="958.9" cy="807.6" r="2.8" fill="#A1A8B5"/><rect x="229.7" y="865.3" width="24.8" height="24.8" rx="3.6" stroke="#4F83EA" stroke-width="2.9"/><path d="M234.3 878.9L239.5 884.4L249.8 871.8" stroke="#4F83EA" stroke-width="2.8" fill="none"/><circle cx="958.9" cy="868.4" r="2.8" fill="#A1A8B5"/><circle cx="958.9" cy="878" r="2.8" fill="#A1A8B5"/><circle cx="958.9" cy="887.6" r="2.8" fill="#A1A8B5"/><rect x="229.7" y="945.3" width="24.8" height="24.8" rx="3.6" stroke="#4F83EA" stroke-width="2.9"/><path d="M234.3 958.9L239.5 964.4L249.8 951.8" stroke="#4F83EA" stroke-width="2.8" fill="none"/><circle cx="958.9" cy="948.4" r="2.8" fill="#A1A8B5"/><circle cx="958.9" cy="958" r="2.8" fill="#A1A8B5"/><circle cx="958.9" cy="967.6" r="2.8" fill="#A1A8B5"/><rect x="229.7" y="1025.3" width="24.8" height="24.8" rx="3.6" stroke="#4F83EA" stroke-width="2.9"/><path d="M234.3 1038.9L239.5 1044.4L249.8 1031.8" stroke="#4F83EA" stroke-width="2.8" fill="none"/><path d="M96.6 1030.4L106 1039.2L115.4 1030.4" stroke="#8590A2" stroke-width="2.4" fill="none"/><circle cx="958.9" cy="1028.4" r="2.8" fill="#A1A8B5"/><circle cx="958.9" cy="1038" r="2.8" fill="#A1A8B5"/><circle cx="958.9" cy="1047.6" r="2.8" fill="#A1A8B5"/><rect x="293.6" y="1105.9" width="12.2" height="12.4" rx="3" stroke="#4F83EA" stroke-width="2.6"/><rect x="305.9" y="1117.7" width="12.4" height="12.6" rx="3" stroke="#4F83EA" stroke-width="2.6" fill="#fff"/><circle cx="958.9" cy="1108.4" r="2.8" fill="#A1A8B5"/><circle cx="958.9" cy="1118" r="2.8" fill="#A1A8B5"/><circle cx="958.9" cy="1127.6" r="2.8" fill="#A1A8B5"/><rect x="229.7" y="1185.3" width="24.8" height="24.8" rx="3.6" stroke="#4F83EA" stroke-width="2.9"/><path d="M234.3 1198.9L239.5 1204.4L249.8 1191.8" stroke="#4F83EA" stroke-width="2.8" fill="none"/><circle cx="958.9" cy="1188.4" r="2.8" fill="#A1A8B5"/><circle cx="958.9" cy="1198" r="2.8" fill="#A1A8B5"/><circle cx="958.9" cy="1207.6" r="2.8" fill="#A1A8B5"/><rect x="229.7" y="1265.3" width="24.8" height="24.8" rx="3.6" stroke="#4F83EA" stroke-width="2.9"/><path d="M234.3 1278.9L239.5 1284.4L249.8 1271.8" stroke="#4F83EA" stroke-width="2.8" fill="none"/><path d="M96.6 1270.4L106 1279.2L115.4 1270.4" stroke="#8590A2" stroke-width="2.4" fill="none"/><circle cx="958.9" cy="1268.4" r="2.8" fill="#A1A8B5"/><circle cx="958.9" cy="1278" r="2.8" fill="#A1A8B5"/><circle cx="958.9" cy="1287.6" r="2.8" fill="#A1A8B5"/><path d="M151.8 1068V1108C151.8 1117 155 1121.7 165 1121.7H195.5" stroke="#DCDFE4" stroke-width="3" fill="none"/><path d="M151.8 1308V1340" stroke="#DCDFE4" stroke-width="3" fill="none"/></svg>
<div style="left:26px;top:262px;width:4px;height:1150px;background:#DCDFE4;"></div>
<div style="left:456px;top:169px;width:2px;height:93px;background:#DCDFE4;"></div>
<div style="left:456px;top:262px;width:4px;height:1150px;background:#DCDFE4;"></div>
<div style="left:928px;top:262px;width:4px;height:1150px;background:#DCDFE4;"></div>
<div style="left:934px;top:262px;width:4px;height:1150px;background:#E6E8EC;"></div>
<div style="left:934px;top:170px;width:46px;height:92px;background:#F1F2F4;"></div>
<div style="left:930px;top:170px;width:4px;height:93px;background:#8FDDEE;"></div>
<div style="left:28px;top:261.5px;width:953px;height:2px;background:#DCDFE4;"></div>
<div style="left:980px;top:170px;width:6px;height:1243px;background:#DCDFE4;"></div>
<div style="left:60px;top:204px;width:25px;height:25px;border:2px solid #8590A2;border-radius:5px;background:#fff;"></div>
<div class="t" style="left:179.52px;top:196.5px;height:39px;line-height:39px;font-size:28px;color:#44546F;font-weight:700;white-space:nowrap;transform:scaleX(0.9596);transform-origin:0 50%;">Key</div>
<div class="t" style="left:542.55px;top:196.5px;height:39px;line-height:39px;font-size:28px;color:#44546F;font-weight:700;white-space:nowrap;transform:scaleX(1.002);transform-origin:0 50%;">Summary</div>
<svg style="left:940px;top:198px;" width="36" height="36" viewBox="0 0 36 36" fill="none"><path d="M7.3 17.9L26.7 17.9" stroke="#172B4D" stroke-width="3.8" stroke-linecap="round"/><path d="M17 8.2L17 27.6" stroke="#172B4D" stroke-width="3.8" stroke-linecap="round"/></svg>
<div style="left:28px;top:1332px;width:952px;height:80px;background:#fff;box-shadow:0 -3px 6px rgba(9,30,66,.10);"></div>
<div class="t" style="left:123.28px;top:1352.5px;height:39px;line-height:39px;font-size:28px;color:#44546F;font-weight:400;white-space:nowrap;-webkit-text-stroke:0.55px #44546F;transform:scaleX(1.051);transform-origin:0 50%;">Create</div>
<svg style="left:74px;top:1354px;" width="36" height="36" viewBox="0 0 36 36" fill="none"><path d="M4 18L32 18" stroke="#05070A" stroke-width="3.5" stroke-linecap="butt"/><path d="M18 4L18 32" stroke="#05070A" stroke-width="3.5" stroke-linecap="butt"/></svg>
<div style="left:2786px;top:170px;width:23px;height:1265px;background:#F6F7F9;"></div>
<div style="left:28px;top:1412px;width:2781px;height:22px;background:#F6F7F9;"></div>
<div style="left:26px;top:168px;width:2784.5px;height:1268px;border:2px solid #DCDFE4;"></div>
<div style="left:1356px;top:1418px;width:232px;height:11px;background:#B3B9C4;border-radius:6px;"></div>
<div style="left:2792px;top:415px;width:12px;height:302px;background:#B3B9C4;border-radius:6px;"></div>
<div style="left:2239px;top:152px;width:500px;height:547px;background:#fff;border-radius:7px;box-shadow:0 0 2px rgba(9,30,66,.32),0 10px 26px rgba(9,30,66,.14);"></div>
<div class="t" style="left:2269.99px;top:192.5px;height:32px;line-height:32px;font-size:23px;color:#44546F;font-weight:700;white-space:nowrap;transform:scaleX(1.0743);transform-origin:0 50%;">Baselines</div>
<div class="t" style="left:2269.5px;top:256.5px;height:39px;line-height:39px;font-size:28px;color:#172B4D;font-weight:400;white-space:nowrap;-webkit-text-stroke:0.4px #172B4D;transform:scaleX(1.0262);transform-origin:0 50%;">Baseline 2</div>
<div class="t" style="left:2269.55px;top:336.5px;height:39px;line-height:39px;font-size:28px;color:#172B4D;font-weight:400;white-space:nowrap;-webkit-text-stroke:0.4px #172B4D;transform:scaleX(0.9988);transform-origin:0 50%;">Baseline 1</div>
<div style="left:2239px;top:408px;width:500px;height:2px;background:#DCDFE4;"></div>
<div class="t" style="left:2270.53px;top:442.5px;height:39px;line-height:39px;font-size:28px;color:#172B4D;font-weight:400;white-space:nowrap;-webkit-text-stroke:0.4px #172B4D;transform:scaleX(1.0206);transform-origin:0 50%;">Clear</div>
<div style="left:2239px;top:514px;width:500px;height:2px;background:#DCDFE4;"></div>
<div class="t" style="left:2269.49px;top:549.0px;height:39px;line-height:39px;font-size:28px;color:#172B4D;font-weight:400;white-space:nowrap;-webkit-text-stroke:0.4px #172B4D;transform:scaleX(1.0294);transform-origin:0 50%;">Manage baselines</div>
<div style="left:2249px;top:611.4px;width:468px;height:77.4px;border:6px solid #7AC9A3;border-radius:3px;box-shadow:0 3px 8px rgba(9,30,66,.18);"></div>
<div style="left:2255px;top:617.4px;width:456px;height:65.4px;background:#fff;"></div>
<div class="t" style="left:2271.23px;top:629.0px;height:39px;line-height:39px;font-size:28px;color:#172B4D;font-weight:400;white-space:nowrap;-webkit-text-stroke:0.4px #172B4D;transform:scaleX(1.023);transform-origin:0 50%;">Create a new baseline</div>
<svg style="left:2080px;top:610px;" width="190" height="70" viewBox="0 0 190 70" fill="none"><g filter="drop-shadow(0 3px 3px rgba(9,30,66,.22))"><path d="M17.3 18.5L171 37.7" stroke="#7AC9A3" stroke-width="6.2" stroke-linecap="round"/><path d="M158.3 22.4L171.6 37.8L155.4 48.6" stroke="#7AC9A3" stroke-width="6.2" stroke-linecap="round" stroke-linejoin="round" fill="none"/></g></svg>
</div><script>(function(){var d=window.devicePixelRatio||1;if(d>1.01){var r=document.getElementById("root");r.style.transformOrigin="0 0";r.style.transform="scale("+(1/d)+")";document.body.style.width=(2832/d)+"px";document.body.style.height=(1436/d)+"px";}})();</script></body></html>
